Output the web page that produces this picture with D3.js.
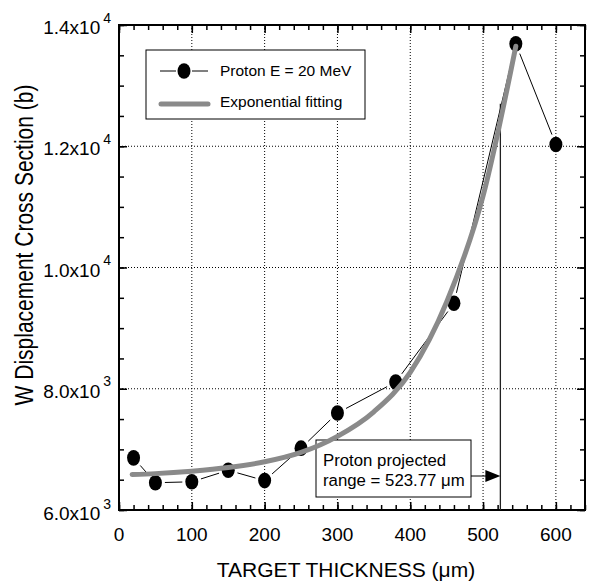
<!DOCTYPE html>
<html lang="en">
<head>
    <meta charset="UTF-8">
    <title>W displacement cross section vs target thickness</title>
    <script src="https://d3js.org/d3.v7.min.js"></script>
    <style>
        body { margin: 0; background: white; }
        text { font-family: "Liberation Sans", Arial, Helvetica, sans-serif; fill: black; }
        .grid line { stroke: black; stroke-width: 1; stroke-dasharray: 1,2; }
        .frame { fill: none; stroke: black; stroke-width: 2; }
        .ticks line { stroke: black; stroke-width: 1.5; }
        .ticks path { display: none; }
    </style>
</head>
<body>
<svg height="584" width="591"></svg>

<script>
    // measured points (Proton E = 20 MeV)
    const thickness    = [20, 50, 100, 150, 200, 250, 300, 380, 460, 545, 600];
    const crossSection = [6860, 6450, 6465, 6655, 6485, 7020, 7600, 8110, 9410, 13690, 12030];

    // exponential fitting curve
    const fitX = [18, 50, 100, 150, 200, 250, 300, 350, 400, 450, 500, 545];
    const fitY = [6585, 6600, 6640, 6700, 6795, 6950, 7215, 7620, 8270, 9430, 11180, 13650];

    const xTicks = [0, 100, 200, 300, 400, 500, 600];
    const yTicks = [6000, 8000, 10000, 12000, 14000];
    const yTickLabels = [["6.0x10", "3"], ["8.0x10", "3"], ["1.0x10", "4"], ["1.2x10", "4"], ["1.4x10", "4"]];

    const rangeX = 523.77;
    const rangeTop = 12700;
    const rangeText = ["Proton projected", "range = 523.77 \u03bcm"];
    const legendText = ["Proton E = 20 MeV", "Exponential fitting"];

    const svg = d3.select("svg");
    const mLeft = 119, mRight = 585, mTop = 25, mBottom = 510;

    const x = d3.scaleLinear().domain([0, 640]).range([mLeft, mRight]);
    const y = d3.scaleLinear().domain([6000, 14000]).range([mBottom, mTop]);

    // grid
    const grid = svg.append("g").attr("class", "grid");
    grid.selectAll("line.vx")
        .data(xTicks.filter(d => d > 0))
        .join("line").attr("class", "vx")
          .attr("x1", d => x(d)).attr("x2", d => x(d))
          .attr("y1", mTop).attr("y2", mBottom);
    grid.selectAll("line.hy")
        .data(yTicks.filter(d => d > 6000 && d < 14000))
        .join("line").attr("class", "hy")
          .attr("x1", mLeft).attr("x2", mRight)
          .attr("y1", d => y(d)).attr("y2", d => y(d));

    // ticks on all four sides, pointing inward
    const minorX = d3.range(0, 641, 20);
    const minorY = d3.range(6000, 14001, 500);
    function tickSet(axisFn, scale, vals, size, tr) {
        svg.append("g").attr("class", "ticks").attr("transform", tr)
           .call(axisFn(scale).tickValues(vals).tickSize(size).tickFormat(""));
    }
    tickSet(d3.axisBottom, x, minorX, -5, `translate(0,${mBottom})`);
    tickSet(d3.axisBottom, x, xTicks, -8, `translate(0,${mBottom})`);
    tickSet(d3.axisTop, x, minorX, -5, `translate(0,${mTop})`);
    tickSet(d3.axisTop, x, xTicks, -8, `translate(0,${mTop})`);
    tickSet(d3.axisLeft, y, minorY, -5, `translate(${mLeft},0)`);
    tickSet(d3.axisLeft, y, yTicks, -8, `translate(${mLeft},0)`);
    tickSet(d3.axisRight, y, minorY, -5, `translate(${mRight},0)`);
    tickSet(d3.axisRight, y, yTicks, -8, `translate(${mRight},0)`);

    svg.append("rect").attr("class", "frame")
       .attr("x", mLeft).attr("y", mTop)
       .attr("width", mRight - mLeft).attr("height", mBottom - mTop);

    // tick labels
    svg.selectAll("text.xl")
       .data(xTicks)
       .join("text").attr("class", "xl")
         .attr("x", d => x(d)).attr("y", mBottom + 30.5)
         .attr("text-anchor", "middle").style("font-size", "19px")
         .text(d => d);

    const yl = svg.selectAll("text.yl")
       .data(yTicks)
       .join("text").attr("class", "yl")
         .attr("x", mLeft - 8).attr("y", (d, i) => y(d) + (i === 0 ? 10 : 9))
         .attr("text-anchor", "end").style("font-size", "19px");
    yl.append("tspan").text((d, i) => yTickLabels[i][0]);
    yl.append("tspan").attr("dx", 3).attr("dy", -11.5)
      .style("font-size", "14px").text((d, i) => yTickLabels[i][1]);

    // axis titles
    svg.append("text")
       .attr("x", 346).attr("y", 577)
       .attr("text-anchor", "middle").style("font-size", "21px")
       .text("TARGET THICKNESS (\u03bcm)");
    svg.append("text")
       .attr("transform", "translate(33,245) rotate(-90) scale(1,1.2)")
       .attr("text-anchor", "middle").style("font-size", "21px")
       .text("W Displacement Cross Section (b)");

    // projected range line and note
    svg.append("line")
       .attr("x1", x(rangeX)).attr("x2", x(rangeX))
       .attr("y1", mBottom).attr("y2", y(rangeTop))
       .attr("stroke", "#222").attr("stroke-width", 1.3);

    const boxL = 316, boxT = 440, boxW = 155, boxH = 57, arrowY = 476;
    svg.append("rect")
       .attr("x", boxL).attr("y", boxT).attr("width", boxW).attr("height", boxH)
       .attr("fill", "white").attr("stroke", "black").attr("stroke-width", 1);
    svg.selectAll("text.note")
       .data(rangeText)
       .join("text").attr("class", "note")
         .attr("x", boxL + 7).attr("y", (d, i) => boxT + 26 + i * 20)
         .style("font-size", "16.8px")
         .text(d => d);
    const tip = x(rangeX);
    svg.append("line")
       .attr("x1", boxL + boxW).attr("x2", tip - 12)
       .attr("y1", arrowY).attr("y2", arrowY)
       .attr("stroke", "black").attr("stroke-width", 1);
    svg.append("path")
       .attr("d", `M${tip},${arrowY} L${tip - 15},${arrowY - 6} L${tip - 15},${arrowY + 6} Z`)
       .attr("fill", "black");

    // data line with small gaps around the markers
    const rx = 6.5, ry = 7.8, gap = 3;
    const pts = thickness.map((t, i) => [x(t), y(crossSection[i])]);
    function reach(ux, uy) { return 1 / Math.sqrt((ux / rx) ** 2 + (uy / ry) ** 2) + gap; }
    svg.selectAll("line.seg")
       .data(d3.pairs(pts))
       .join("line").attr("class", "seg")
         .each(function([a, b]) {
             const dx = b[0] - a[0], dy = b[1] - a[1];
             const len = Math.hypot(dx, dy), ux = dx / len, uy = dy / len;
             const r = reach(ux, uy);
             d3.select(this)
               .attr("x1", a[0] + ux * r).attr("y1", a[1] + uy * r)
               .attr("x2", b[0] - ux * r).attr("y2", b[1] - uy * r);
         })
         .attr("stroke", "black").attr("stroke-width", 1);

    svg.selectAll("ellipse.pt")
       .data(pts)
       .join("ellipse").attr("class", "pt")
         .attr("cx", d => d[0]).attr("cy", d => d[1])
         .attr("rx", rx).attr("ry", ry)
         .attr("fill", "black");

    // fitted curve
    const fitLine = d3.line()
        .x(d => x(d[0])).y(d => y(d[1]))
        .curve(d3.curveMonotoneX);
    svg.append("path")
       .datum(fitX.map((v, i) => [v, fitY[i]]))
       .attr("d", fitLine)
       .attr("fill", "none").attr("stroke", "#8a8a8a")
       .attr("stroke-width", 5).attr("stroke-linecap", "round");

    // legend
    const lg = svg.append("g");
    lg.append("rect")
      .attr("x", 146).attr("y", 50).attr("width", 219).attr("height", 69)
      .attr("fill", "white").attr("stroke", "black").attr("stroke-width", 1);
    lg.append("line").attr("x1", 160).attr("x2", 176).attr("y1", 71).attr("y2", 71)
      .attr("stroke", "black").attr("stroke-width", 1);
    lg.append("line").attr("x1", 192).attr("x2", 208).attr("y1", 71).attr("y2", 71)
      .attr("stroke", "black").attr("stroke-width", 1);
    lg.append("ellipse").attr("cx", 184).attr("cy", 71).attr("rx", rx).attr("ry", ry)
      .attr("fill", "black");
    lg.append("line").attr("x1", 161).attr("x2", 208).attr("y1", 104).attr("y2", 104)
      .attr("stroke", "#8a8a8a").attr("stroke-width", 5).attr("stroke-linecap", "round");
    lg.selectAll("text.lt")
      .data(legendText)
      .join("text").attr("class", "lt")
        .attr("x", 220).attr("y", (d, i) => 76 + i * 31)
        .style("font-size", "15.5px")
        .text(d => d);
</script>

</body>
</html>
